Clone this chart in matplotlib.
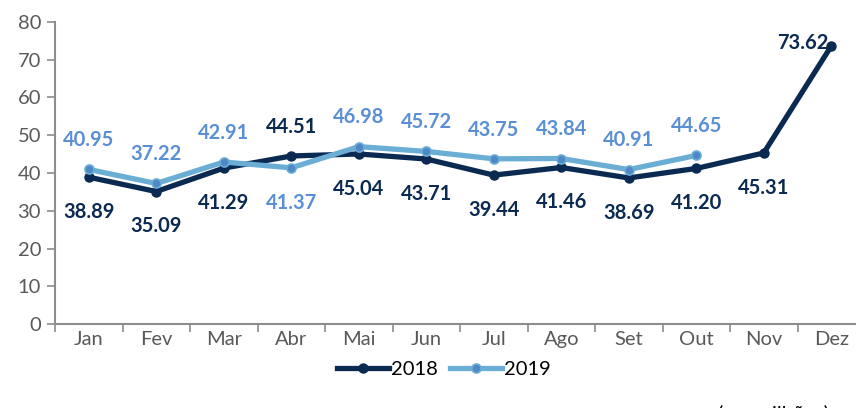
import matplotlib.pyplot as plt

meses = ["Jan", "Fev", "Mar", "Abr", "Mai", "Jun", "Jul", "Ago", "Set", "Out", "Nov", "Dez"]
valores_2018 = [38.89, 35.09, 41.29, 44.51, 45.04, 43.71, 39.44, 41.46, 38.69, 41.20, 45.31, 73.62]
valores_2019 = [40.95, 37.22, 42.91, 41.37, 46.98, 45.72, 43.75, 43.84, 40.91, 44.65]

# onde fica cada rótulo (a = acima, b = abaixo, e = à esquerda)
pos_2018 = ["b", "b", "b", "a", "b", "b", "b", "b", "b", "b", "b", "e"]
pos_2019 = ["a", "a", "a", "b", "a", "a", "a", "a", "a", "a"]

COR_2018 = "#0b2a52"
COR_2019 = "#6aaed6"
COR_MARC_2019 = "#4f88c6"
COR_ROT_2019 = "#5a8fd6"
COR_EIXO = "#8c8c8c"
COR_TXT = "#595959"

plt.rcParams["font.family"] = ["Lato", "DejaVu Sans"]

fig = plt.figure(figsize=(8.56, 4.08), dpi=100)
ax = fig.add_axes([55 / 856, 84 / 408, 810 / 856, 302 / 408])

x = list(range(len(meses)))
ax.plot(x, valores_2018, color=COR_2018, lw=3.8, marker="o", ms=6.5,
        mfc=COR_2018, mec=COR_2018, label="2018", zorder=3)
ax.plot(x[:len(valores_2019)], valores_2019, color=COR_2019, lw=3.8, marker="o", ms=6.5,
        mfc=COR_MARC_2019, mec=COR_2019, mew=1.2, label="2019", zorder=4)


def rotulos(valores, posicoes, cor):
    for i, v in enumerate(valores):
        if posicoes[i] == "a":
            off, ha = (0, 21), "center"
        elif posicoes[i] == "e":
            off, ha = (-2, 2), "right"
        else:
            off, ha = (0, -25), "center"
        ax.annotate(f"{v:.2f}", (i, v), xytext=off, textcoords="offset points",
                    ha=ha, va="center", fontsize=14.5, fontweight="bold", color=cor, zorder=5)


rotulos(valores_2019, pos_2019, COR_ROT_2019)
rotulos(valores_2018, pos_2018, COR_2018)

ax.set_xlim(-0.5, 11.5)
ax.set_ylim(0, 80)
ax.set_yticks(range(0, 81, 10))
ax.set_xticks([i - 0.5 for i in range(13)])
ax.set_xticklabels([])
ax.set_xticks(x, minor=True)
ax.set_xticklabels(meses, minor=True)
ax.tick_params(axis="x", which="major", length=6, width=1.2, color=COR_EIXO)
ax.tick_params(axis="x", which="minor", length=0, pad=5, labelsize=14.5, labelcolor=COR_TXT)
ax.tick_params(axis="y", length=6, width=1.2, color=COR_EIXO, labelsize=14.5, labelcolor=COR_TXT, pad=4)

for lado in ["top", "right"]:
    ax.spines[lado].set_visible(False)
for lado in ["left", "bottom"]:
    ax.spines[lado].set_color(COR_EIXO)
    ax.spines[lado].set_linewidth(1.5)

fig.legend(loc="center", bbox_to_anchor=(444 / 856, 1 - 369 / 408), ncol=2,
           frameon=False, fontsize=14.5, handlelength=2.6, handletextpad=0.1,
           columnspacing=0.6)

fig.text(718 / 856, -14 / 408, "(em milhões)", fontsize=14.5, color="black", va="bottom")

fig.savefig("out.png", dpi=100)
